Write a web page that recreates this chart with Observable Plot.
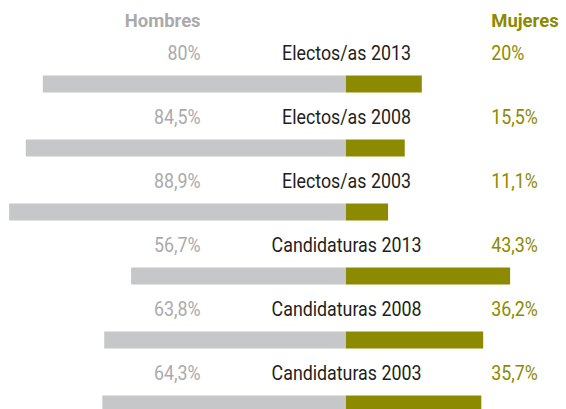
<!DOCTYPE html>
<html><head><meta charset="utf-8">
<script src="https://cdn.jsdelivr.net/npm/d3@7"></script>
<script src="https://cdn.jsdelivr.net/npm/@observablehq/plot@0.6"></script>
<style>
html,body{margin:0;padding:0;background:#fff;overflow:hidden;}
#chart{width:566px;height:409px;overflow:hidden;}
#chart svg{font-family:Roboto,"Liberation Sans",sans-serif;}
</style></head>
<body><div id="chart"></div>
<script>
const categories = ["Electos/as 2013","Electos/as 2008","Electos/as 2003","Candidaturas 2013","Candidaturas 2008","Candidaturas 2003"];
const hombres = [80, 84.5, 88.9, 56.7, 63.8, 64.3];
const mujeres = [20, 15.5, 11.1, 43.3, 36.2, 35.7];
const seriesNames = ["Hombres", "Mujeres"];

const rows = categories.map((c, i) => ({cat: c, h: hombres[i], m: mujeres[i]}));
const fmt = v => String(v).replace(".", ",") + "%";
const GRAY = "#c6c7c8", OLIVE = "#8c8a00";
const FONT = 20.5;

const chart = Plot.plot({
  width: 566, height: 409,
  margin: 0,
  x: {domain: [-91.3, 58.05], range: [0, 566], axis: null},
  y: {domain: categories, range: [52, 436], padding: 0, axis: null},
  marks: [
    Plot.barX(rows, {y: "cat", x1: 0, x2: d => -d.h, fill: GRAY, insetTop: 23.5, insetBottom: 23.5}),
    Plot.barX(rows, {y: "cat", x1: 0, x2: "m", fill: OLIVE, insetTop: 23.5, insetBottom: 23.5}),
    Plot.text(rows, {y: "cat", x: 0, text: "cat", dy: -31.5, fill: "#231f20", fontSize: FONT, textAnchor: "middle", className: "lab"}),
    Plot.text(rows, {y: "cat", x: -38.5, text: d => fmt(d.h), dy: -31.5, fill: "#aaaaaa", fontSize: FONT, textAnchor: "end", className: "lab"}),
    Plot.text(rows, {y: "cat", x: 38.2, text: d => fmt(d.m), dy: -31.5, fill: OLIVE, fontSize: FONT, textAnchor: "start", className: "lab"}),
    Plot.text([seriesNames[0]], {y: () => categories[0], x: -38.5, text: d => d, dy: -63, fill: "#aaaaaa", fontSize: 17.5, fontWeight: "bold", textAnchor: "end", className: "hdr"}),
    Plot.text([seriesNames[1]], {y: () => categories[0], x: 38.2, text: d => d, dy: -63, fill: OLIVE, fontSize: 17.5, fontWeight: "bold", textAnchor: "start", className: "hdr"})
  ]
});
document.getElementById("chart").appendChild(chart);

// condense the text horizontally to match the reference's narrow typeface
function condense(cls, sample, targetWidth) {
  const texts = [...chart.querySelectorAll("g." + cls + " text")];
  const ref = texts.find(t => t.textContent === sample);
  if (!ref) return;
  const w = ref.getComputedTextLength();
  const s = targetWidth / w;
  texts.forEach(t => {
    const tr = t.getAttribute("transform") || "";
    t.setAttribute("transform", tr + ` scale(${s.toFixed(3)},1)`);
  });
}
condense("lab", "Electos/as 2013", 129);
condense("hdr", "Hombres", 76);
</script>
</body></html>
